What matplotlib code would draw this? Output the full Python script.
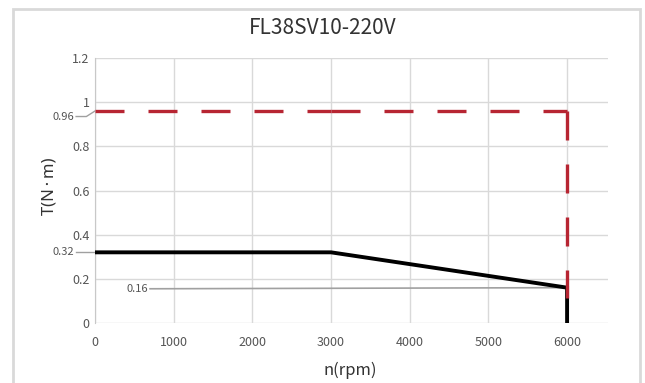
import matplotlib
matplotlib.use("Agg")
import matplotlib.pyplot as plt
from matplotlib.patches import Rectangle

plt.rcParams['font.family'] = ['Noto Sans CJK SC', 'DejaVu Sans']

title = "FL38SV10-220V"
xticks = [0, 1000, 2000, 3000, 4000, 5000, 6000]
yticks = [0, 0.2, 0.4, 0.6, 0.8, 1.0, 1.2]
ytick_labels = ["0", "0.2", "0.4", "0.6", "0.8", "1", "1.2"]

# continuous torque (black)
cont_x = [0, 3000, 6000, 6000]
cont_y = [0.32, 0.32, 0.16, 0.0]
# peak torque (red dashed), drawn as separate segments
peak_x = [0, 3000, 6000, 6000]
peak_y = [0.96, 0.96, 0.96, 0.113]
# gray reference line for 0.16
ref_x = [700, 6000]
ref_y = [0.155, 0.16]

W, H = 645, 383
fig = plt.figure(figsize=(W/100, H/100), dpi=100)
fig.patches.append(Rectangle((13/W, -0.05), (640-13)/W, (H-9)/H + 0.05,
                             transform=fig.transFigure, fill=False,
                             edgecolor='#d9d9d9', linewidth=2, zorder=0))

ax = fig.add_axes([95/W, 1-323/H, (608-95)/W, (323-58)/H])
ax.set_xlim(0, 6520)
ax.set_ylim(0, 1.2)
ax.set_xticks(xticks)
ax.set_yticks(yticks)
ax.set_yticklabels(ytick_labels)
ax.grid(True, color='#d9d9d9', linewidth=1)
ax.set_axisbelow(True)
for s in ['top', 'right', 'bottom']:
    ax.spines[s].set_visible(False)
ax.spines['left'].set_color('#c8c8c8')
ax.tick_params(length=0, labelsize=9, colors='#555555')
ax.tick_params(axis='x', pad=9)
ax.tick_params(axis='y', pad=4)

ax.plot(ref_x, ref_y, color='#a0a0a0', linewidth=1.2, zorder=2)
ax.plot(cont_x, cont_y, color='black', linewidth=2.8, zorder=3,
        solid_joinstyle='miter')
for i in range(len(peak_x) - 1):
    ax.plot(peak_x[i:i+2], peak_y[i:i+2], color='#b72532', linewidth=2.4,
            zorder=4, dashes=(8.7, 7.2))

# special value labels
ax.text(-265, 0.935, "0.96", ha='right', va='center', fontsize=8,
        color='#555555', clip_on=False)
ax.plot([-240, -110, 0], [0.935, 0.935, 0.96], color='#a0a0a0',
        linewidth=1, clip_on=False)
ax.text(-265, 0.32, "0.32", ha='right', va='center', fontsize=8,
        color='#555555', clip_on=False)
ax.plot([-240, 0], [0.32, 0.32], color='#a0a0a0', linewidth=1, clip_on=False)
ax.text(670, 0.153, "0.16", ha='right', va='center', fontsize=8,
        color='#555555')

fig.text(350/W, 1 - 370/H, "n(rpm)", ha='center', va='center',
         fontsize=12, color='#333333')
fig.text(49/W, 1 - 186/H, "T(N\u2009·\u2009m)", ha='center', va='center',
         rotation=90, fontsize=12, color='#333333',
         family=['Noto Sans', 'DejaVu Sans'])
fig.text(0.5, 1 - 28/H, title, ha='center', va='center',
         fontsize=15, color='#333333', fontweight='light')

fig.savefig("out.png", dpi=100)
